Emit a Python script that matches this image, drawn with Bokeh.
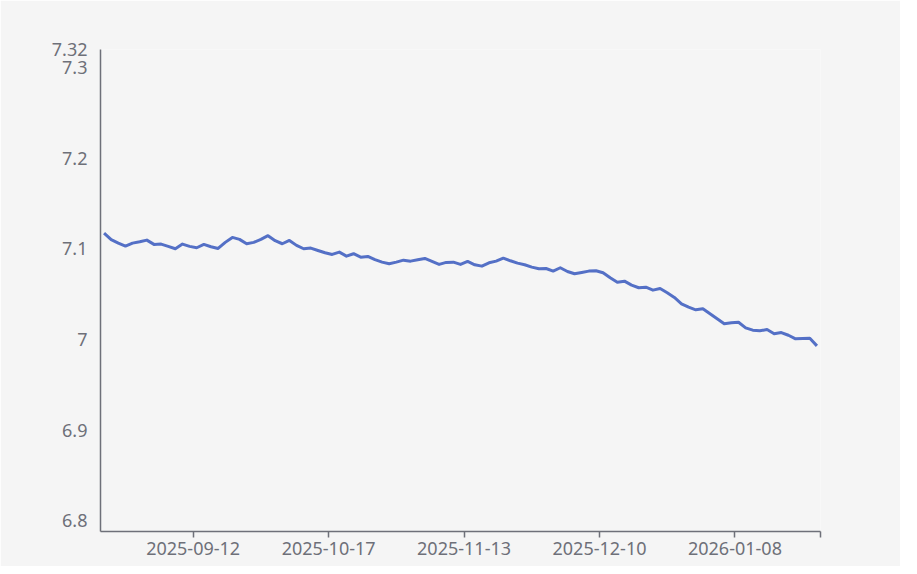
from bokeh.plotting import figure
from bokeh.models import FixedTicker, Range1d
from bokeh.embed import file_html
from bokeh.resources import INLINE

# Trading days (categories)
dates = [
    "2025-08-26", "2025-08-27", "2025-08-28", "2025-08-29",
    "2025-09-01", "2025-09-02", "2025-09-03", "2025-09-04", "2025-09-05",
    "2025-09-08", "2025-09-09", "2025-09-10", "2025-09-11", "2025-09-12",
    "2025-09-15", "2025-09-16", "2025-09-17", "2025-09-18", "2025-09-19",
    "2025-09-22", "2025-09-23", "2025-09-24", "2025-09-25", "2025-09-26",
    "2025-09-29", "2025-09-30",
    "2025-10-09", "2025-10-10",
    "2025-10-13", "2025-10-14", "2025-10-15", "2025-10-16", "2025-10-17",
    "2025-10-20", "2025-10-21", "2025-10-22", "2025-10-23", "2025-10-24",
    "2025-10-27", "2025-10-28", "2025-10-29", "2025-10-30", "2025-10-31",
    "2025-11-03", "2025-11-04", "2025-11-05", "2025-11-06", "2025-11-07",
    "2025-11-10", "2025-11-11", "2025-11-12", "2025-11-13", "2025-11-14",
    "2025-11-17", "2025-11-18", "2025-11-19", "2025-11-20", "2025-11-21",
    "2025-11-24", "2025-11-25", "2025-11-26", "2025-11-27", "2025-11-28",
    "2025-12-01", "2025-12-02", "2025-12-03", "2025-12-04", "2025-12-05",
    "2025-12-08", "2025-12-09", "2025-12-10", "2025-12-11", "2025-12-12",
    "2025-12-15", "2025-12-16", "2025-12-17", "2025-12-18", "2025-12-19",
    "2025-12-22", "2025-12-23", "2025-12-24", "2025-12-25", "2025-12-26",
    "2025-12-29", "2025-12-30", "2025-12-31",
    "2026-01-05", "2026-01-06", "2026-01-07", "2026-01-08", "2026-01-09",
    "2026-01-12", "2026-01-13", "2026-01-14", "2026-01-15", "2026-01-16",
    "2026-01-19", "2026-01-20", "2026-01-21", "2026-01-22", "2026-01-23",
]

rates = [
    7.1173, 7.1101, 7.1063, 7.1030, 7.1063, 7.1078, 7.1096, 7.1049, 7.1052, 7.1027,
    7.1001, 7.1052, 7.1027, 7.1012, 7.1049, 7.1023, 7.1004, 7.1071, 7.1126, 7.1104,
    7.1056, 7.1071, 7.1104, 7.1145, 7.1090, 7.1056, 7.1093, 7.1038, 7.1001, 7.1008,
    7.0982, 7.0957, 7.0938, 7.0964, 7.0919, 7.0946, 7.0908, 7.0916, 7.0880, 7.0853,
    7.0835, 7.0853, 7.0875, 7.0864, 7.0880, 7.0894, 7.0861, 7.0828, 7.0850, 7.0853,
    7.0828, 7.0861, 7.0824, 7.0809, 7.0846, 7.0864, 7.0897, 7.0868, 7.0842, 7.0824,
    7.0798, 7.0780, 7.0783, 7.0754, 7.0791, 7.0750, 7.0725, 7.0739, 7.0754, 7.0758,
    7.0736, 7.0681, 7.0632, 7.0643, 7.0599, 7.0570, 7.0577, 7.0544, 7.0562, 7.0515,
    7.0463, 7.0393, 7.0356, 7.0327, 7.0338, 7.0283, 7.0228, 7.0172, 7.0183, 7.0190,
    7.0128, 7.0102, 7.0095, 7.0109, 7.0062, 7.0076, 7.0046, 7.0007, 7.0010, 7.0013,
    6.9929,
]

label_dates = ["2025-09-12", "2025-10-17", "2025-11-13", "2025-12-10", "2026-01-08"]
y_ticks = [6.8, 6.9, 7.0, 7.1, 7.2, 7.3, 7.32]
y_labels = ["6.8", "6.9", "7", "7.1", "7.2", "7.3", "7.32"]
y_min, y_max = 6.788, 7.32

n = len(dates)
xs = [i + 0.5 for i in range(n)]
x_ticks = [dates.index(d) for d in label_dates] + [n]
x_overrides = {t: d for t, d in zip(x_ticks, label_dates)}
x_overrides[n] = ""

BG = "#f5f5f5"
AXIS = "#6e7079"
FONT = "Noto Sans"

p = figure(width=900, height=566, output_backend="svg", toolbar_location=None,
           x_range=Range1d(0, n), y_range=Range1d(y_min, y_max),
           min_border_left=100, min_border_right=80, min_border_top=49, min_border_bottom=35,
           background_fill_color=BG, border_fill_color=BG)
p.outline_line_color = None
p.grid.visible = False

p.line(xs, rates, line_color="#5470c6", line_width=3, line_join="round")

xa = p.xaxis[0]
xa.ticker = FixedTicker(ticks=x_ticks)
xa.major_label_overrides = x_overrides
xa.axis_line_color = AXIS
xa.axis_line_width = 1.5
xa.major_tick_line_color = AXIS
xa.major_tick_line_width = 1.5
xa.major_tick_in = 0
xa.major_tick_out = 6
xa.minor_tick_line_color = None
xa.major_label_standoff = 4
xa.major_label_text_color = AXIS
xa.major_label_text_font = FONT
xa.major_label_text_font_size = "18px"

ya = p.yaxis[0]
ya.ticker = FixedTicker(ticks=y_ticks)
ya.major_label_overrides = {t: l for t, l in zip(y_ticks, y_labels)}
ya.axis_line_color = AXIS
ya.axis_line_width = 1.5
ya.major_tick_line_color = None
ya.major_tick_in = 0
ya.major_tick_out = 0
ya.minor_tick_line_color = None
ya.major_label_standoff = 13
ya.major_label_text_color = AXIS
ya.major_label_text_font = FONT
ya.major_label_text_font_size = "18px"

open("out.html", "w").write(file_html(p, INLINE))
